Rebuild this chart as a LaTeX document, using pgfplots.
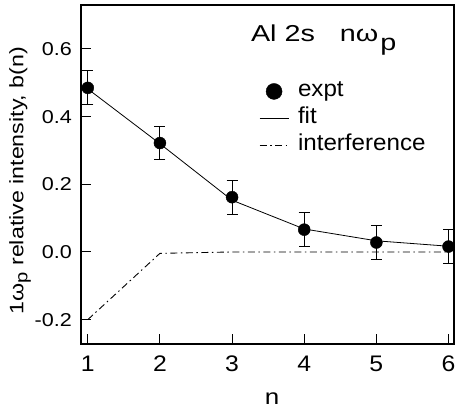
\documentclass[border=0pt]{standalone}
\usepackage{fontspec}
\setmainfont{Liberation Sans}
\newfontfamily\fA[FakeStretch=1.16]{Liberation Sans}
\newfontfamily\fB[FakeStretch=1.10]{Liberation Sans}
\newfontfamily\fC[FakeStretch=1.19]{Liberation Sans}
\newfontfamily\fD[FakeStretch=1.05]{Liberation Sans}
\newfontfamily\fE[FakeStretch=1.25]{Liberation Sans}
\usepackage{pgfplots}
\pgfplotsset{compat=1.18}
\begin{document}
\begin{tikzpicture}
\useasboundingbox (-81pt,-69pt) rectangle (374pt,344pt);
\begin{axis}[
  at={(0pt,0pt)}, anchor=south west,
  scale only axis, width=373pt, height=339pt,
  xmin=0.906, xmax=6.076, ymin=-0.272, ymax=0.730,
  axis line style={line width=1.3pt},
  tick align=inside, tick pos=left,
  major tick length=10pt,
  tick style={line width=1pt, black},
  xtick={1,2,3,4,5,6},
  ytick={-0.2,0,0.2,0.4,0.6},
  yticklabels={-0.2,0.0,0.2,0.4,0.6},
  xticklabels={1,2,3,4,5,6},
  xticklabel style={font=\fB\fontsize{22.5}{24}\selectfont, inner sep=0pt, yshift=-12pt},
  yticklabel style={font=\fA\fontsize{18.6}{21}\selectfont, inner sep=0pt, xshift=-9pt},
  xlabel={\fC\fontsize{21.8}{24}\selectfont n},
  xlabel style={at={([yshift=-60pt]rel axis cs:0.512,0)}, anchor=base, inner sep=0pt},
  ylabel={\fC\fontsize{19.5}{22}\selectfont 1ω\raisebox{-0.4ex}{\fontsize{17}{17}\selectfont p} relative intensity, b(n)},
  ylabel style={at={([xshift=-57.7pt]rel axis cs:0,0.482)}, anchor=base, inner sep=0pt},
  legend image code/.code={\draw[mark repeat=2,mark phase=2,#1] plot coordinates {(0pt,0pt)(14.5pt,0pt)(29pt,0pt)};},
  legend style={draw=none, fill=none, at={(rel axis cs:0.477,0.7855)}, anchor=north west,
    font=\fD\fontsize{23}{27}\selectfont, row sep=0pt, column sep=9pt, inner sep=0pt,
    nodes={inner sep=0pt, text height=19pt, text depth=8pt}},
  legend cell align=left,
]
\addlegendimage{only marks, mark=*, mark size=8pt, black}
\addlegendentry{expt}
\addplot[only marks, mark=*, mark size=6pt, black, forget plot,
  error bars/.cd, y dir=both, y explicit,
  error bar style={line width=1pt, black},
  error mark options={rotate=90, mark size=5.5pt, line width=1pt, black}]
  coordinates {
  (1,0.485) +- (0,0.05)
  (2,0.322) +- (0,0.05)
  (3,0.162) +- (0,0.05)
  (4,0.066) +- (0,0.05)
  (5,0.028) +- (0,0.05)
  (6,0.016) +- (0,0.05)
  };
\addplot[black, line width=0.8pt, mark=none] coordinates {
  (1,0.482) (2,0.320) (3,0.153) (4,0.068) (5,0.033) (6,0.017)
};
\addlegendentry{fit}
\addplot[black, line width=0.9pt, mark=none, dash pattern=on 7pt off 3.5pt on 1.5pt off 3.5pt] coordinates {
  (1,-0.200) (2,-0.004) (3,0.000) (4,0.000) (5,0.000) (6,0.000)
};
\addlegendentry{interference}
\node[anchor=base west, inner sep=0pt, font=\fE\fontsize{23}{26}\selectfont] at (axis cs:3.26,0.622)
  {Al 2s\hspace{25pt}nω\hspace{2pt}\raisebox{-0.4em}{\fontsize{23}{23}\selectfont p}};
\end{axis}
\end{tikzpicture}
\end{document}
